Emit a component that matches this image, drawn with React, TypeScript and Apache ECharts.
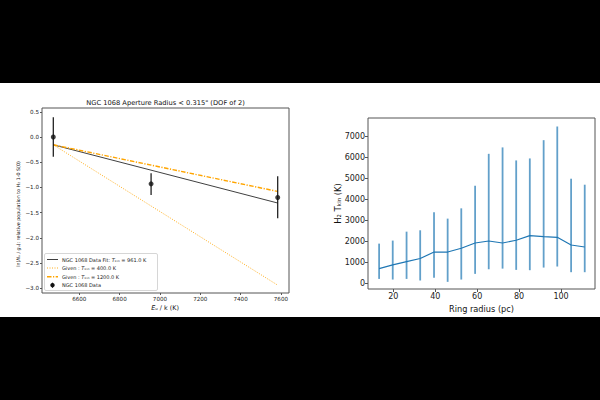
import React, { useEffect, useRef } from "react";
import * as echarts from "echarts";

// ---- Left panel: H2 excitation diagram ----
const levelEu = [6471, 6956, 7584]; // E_u / k (K)
const lnPop = [0.0, -0.93, -1.2];
const lnPopLow = [-0.39, -1.15, -1.61];
const lnPopHigh = [0.39, -0.72, -0.78];
const modelEu = [6471, 7584];
const fitLine = [-0.155, -1.31];
const given400 = [-0.155, -2.94];
const given1200 = [-0.155, -1.08];
const leftXTicks = [6600, 6800, 7000, 7200, 7400, 7600];
const leftYTicks = [0.5, 0.0, -0.5, -1.0, -1.5, -2.0, -2.5, -3.0];

// ---- Right panel: T_kin vs ring radius ----
const ringRadius = [13.2, 19.7, 26.3, 32.8, 39.4, 45.9, 52.4, 59.0, 65.5, 72.1, 78.6, 85.1, 91.7, 98.2, 104.8, 111.3];
const tkin = [710, 890, 1045, 1190, 1500, 1500, 1680, 1930, 2025, 1930, 2060, 2280, 2235, 2200, 1835, 1740];
const tkinLow = [220, 190, 220, 145, 270, 80, 190, 460, 680, 710, 650, 635, 760, 810, 540, 540];
const tkinHigh = [1900, 2045, 2470, 2535, 3390, 3090, 3580, 4655, 6175, 6480, 5860, 5955, 6825, 7475, 4990, 4705];
const rightXTicks = [20, 40, 60, 80, 100];
const rightYTicks = [0, 1000, 2000, 3000, 4000, 5000, 6000, 7000];

const FONT = "DejaVu Sans";
const minus = (s: string) => s.replace("-", "\u2212");

export default function App() {
  const ref = useRef<HTMLDivElement>(null);
  useEffect(() => {
    if (!ref.current) return;
    const chart = echarts.init(ref.current, undefined, { renderer: "svg" });

    const errRender = (color: string, width: number) => (params: any, api: any) => {
      const x = api.value(0);
      const p1 = api.coord([x, api.value(1)]);
      const p2 = api.coord([x, api.value(2)]);
      return {
        type: "line",
        shape: { x1: p1[0], y1: p1[1], x2: p2[0], y2: p2[1] },
        style: { stroke: color, lineWidth: width },
      };
    };

    const tickLabel = (size: number) => ({ fontFamily: FONT, fontSize: size, color: "#222" });

    const legendY = [259.5, 268, 276.8, 285.2];
    const legendTextStyle = { fontFamily: FONT, fontSize: 5, fill: "#222", verticalAlign: "middle" };
    const hiddenLine = { show: false, onZero: false };

    const option: any = {
      animation: false,
      backgroundColor: "#ffffff",
      grid: [
        { left: 42, top: 108, width: 247, height: 185, show: true, borderColor: "#555", borderWidth: 1, backgroundColor: "transparent" },
        { left: 368, top: 118, width: 227, height: 171, show: true, borderColor: "#555", borderWidth: 1, backgroundColor: "transparent" },
      ],
      xAxis: [
        {
          type: "value", gridIndex: 0, min: 6415, max: 7640, position: "bottom",
          axisLine: hiddenLine, splitLine: { show: false },
          axisTick: { show: true, length: 2, customValues: leftXTicks, lineStyle: { color: "#555" } },
          axisLabel: { ...tickLabel(5.6), margin: 3, customValues: leftXTicks, formatter: (v: number) => String(v) },
        },
        {
          type: "value", gridIndex: 1, min: 7.9, max: 116.2, position: "bottom",
          axisLine: hiddenLine, splitLine: { show: false },
          axisTick: { show: true, length: 3, customValues: rightXTicks, lineStyle: { color: "#555" } },
          axisLabel: { ...tickLabel(8), margin: 3, customValues: rightXTicks, formatter: (v: number) => String(v) },
        },
      ],
      yAxis: [
        {
          type: "value", gridIndex: 0, min: -3.095, max: 0.575, position: "left",
          axisLine: hiddenLine, splitLine: { show: false },
          axisTick: { show: true, length: 2, customValues: leftYTicks, lineStyle: { color: "#555" } },
          axisLabel: { ...tickLabel(5.6), margin: 3, customValues: leftYTicks, formatter: (v: number) => minus(v.toFixed(1)) },
        },
        {
          type: "value", gridIndex: 1, min: -260, max: 7880, position: "left",
          axisLine: hiddenLine, splitLine: { show: false },
          axisTick: { show: true, length: 3, customValues: rightYTicks, lineStyle: { color: "#555" } },
          axisLabel: { ...tickLabel(8), margin: 3, customValues: rightYTicks, formatter: (v: number) => String(v) },
        },
      ],
      series: [
        {
          name: "NGC 1068 Data Fit", type: "line", xAxisIndex: 0, yAxisIndex: 0, symbol: "none", z: 3,
          data: modelEu.map((x, i) => [x, fitLine[i]]),
          lineStyle: { color: "#404040", width: 1 },
        },
        {
          name: "Given 400 K", type: "line", xAxisIndex: 0, yAxisIndex: 0, symbol: "none", z: 3,
          data: modelEu.map((x, i) => [x, given400[i]]),
          lineStyle: { color: "#FFA500", width: 0.9, type: [1, 1.5] },
        },
        {
          name: "Given 1200 K", type: "line", xAxisIndex: 0, yAxisIndex: 0, symbol: "none", z: 3,
          data: modelEu.map((x, i) => [x, given1200[i]]),
          lineStyle: { color: "#FFA500", width: 1.4, type: [4.5, 1.5, 1.2, 1.5] },
        },
        {
          name: "Data errors", type: "custom", xAxisIndex: 0, yAxisIndex: 0, z: 4,
          renderItem: errRender("#111", 1.2),
          encode: { x: 0, y: [1, 2] },
          data: levelEu.map((x, i) => [x, lnPopLow[i], lnPopHigh[i]]),
        },
        {
          name: "NGC 1068 Data", type: "scatter", xAxisIndex: 0, yAxisIndex: 0, z: 5,
          symbol: "circle", symbolSize: 5,
          itemStyle: { color: "#111" },
          data: levelEu.map((x, i) => [x, lnPop[i]]),
        },
        {
          name: "Tkin errors", type: "custom", xAxisIndex: 1, yAxisIndex: 1, z: 2,
          renderItem: errRender("rgba(31,119,180,0.7)", 1.8),
          encode: { x: 0, y: [1, 2] },
          data: ringRadius.map((x, i) => [x, tkinLow[i], tkinHigh[i]]),
        },
        {
          name: "Tkin", type: "line", xAxisIndex: 1, yAxisIndex: 1, symbol: "none", z: 3,
          data: ringRadius.map((x, i) => [x, tkin[i]]),
          lineStyle: { color: "#1f77b4", width: 1.2 },
        },
      ],
      graphic: [
        { type: "rect", shape: { x: 0, y: 0, width: 600, height: 83 }, style: { fill: "#000" }, z: 100 },
        { type: "rect", shape: { x: 0, y: 317, width: 600, height: 83 }, style: { fill: "#000" }, z: 100 },
        {
          type: "text", x: 165.5, y: 103,
          style: { text: "NGC 1068 Aperture Radius < 0.315\" (DOF of 2)", fontFamily: FONT, fontSize: 6.7, fill: "#111", align: "center", verticalAlign: "middle" },
        },
        {
          type: "text", x: 165, y: 308,
          style: {
            text: "{it|E\u1d64} / k (K)", fontFamily: FONT, fontSize: 6.4, fill: "#111", align: "center", verticalAlign: "middle",
            rich: { it: { fontFamily: FONT, fontSize: 6.4, fontStyle: "italic", fill: "#111" } },
          },
        },
        {
          type: "text", x: 18, y: 214, rotation: Math.PI / 2,
          style: {
            text: "ln({it|N\u1d64} / {it|g\u1d64}): relative population to H\u2082 1-0 S(0)", fontFamily: FONT, fontSize: 4.8, fill: "#111", align: "center", verticalAlign: "middle",
            rich: { it: { fontFamily: FONT, fontSize: 4.8, fontStyle: "italic", fill: "#111" } },
          },
        },
        // legend
        { type: "rect", shape: { x: 44.5, y: 253.5, width: 113, height: 37, r: 1.5 }, style: { fill: "rgba(255,255,255,0.8)", stroke: "#ccc", lineWidth: 0.8 }, z: 10 },
        { type: "line", shape: { x1: 47, y1: legendY[0], x2: 58, y2: legendY[0] }, style: { stroke: "#404040", lineWidth: 1 }, z: 11 },
        { type: "line", shape: { x1: 47, y1: legendY[1], x2: 58, y2: legendY[1] }, style: { stroke: "#FFA500", lineWidth: 0.9, lineDash: [1, 1.5] }, z: 11 },
        { type: "line", shape: { x1: 47, y1: legendY[2], x2: 58, y2: legendY[2] }, style: { stroke: "#FFA500", lineWidth: 1.4, lineDash: [4.5, 1.5, 1.2, 1.5] }, z: 11 },
        { type: "line", shape: { x1: 52.5, y1: legendY[3] - 2.5, x2: 52.5, y2: legendY[3] + 2.5 }, style: { stroke: "#111", lineWidth: 1.1 }, z: 11 },
        { type: "circle", shape: { cx: 52.5, cy: legendY[3], r: 2.2 }, style: { fill: "#111" }, z: 11 },
        {
          type: "text", x: 62, y: legendY[0], z: 11,
          style: { ...legendTextStyle, text: "NGC 1068 Data Fit: {it|T}\u2096\u1d62\u2099 = 961.0 K", rich: { it: { fontFamily: FONT, fontSize: 5, fontStyle: "italic", fill: "#222" } } },
        },
        {
          type: "text", x: 62, y: legendY[1], z: 11,
          style: { ...legendTextStyle, text: "Given : {it|T}\u2096\u1d62\u2099 = 400.0 K", rich: { it: { fontFamily: FONT, fontSize: 5, fontStyle: "italic", fill: "#222" } } },
        },
        {
          type: "text", x: 62, y: legendY[2], z: 11,
          style: { ...legendTextStyle, text: "Given : {it|T}\u2096\u1d62\u2099 = 1200.0 K", rich: { it: { fontFamily: FONT, fontSize: 5, fontStyle: "italic", fill: "#222" } } },
        },
        {
          type: "text", x: 62, y: legendY[3], z: 11,
          style: { ...legendTextStyle, text: "NGC 1068 Data" },
        },
        // right panel labels
        {
          type: "text", x: 481.5, y: 309,
          style: { text: "Ring radius (pc)", fontFamily: FONT, fontSize: 8.2, fill: "#111", align: "center", verticalAlign: "middle" },
        },
        {
          type: "text", x: 338, y: 203.5, rotation: Math.PI / 2,
          style: { text: "H\u2082 T\u2096\u1d62\u2099 (K)", fontFamily: FONT, fontSize: 8.4, fill: "#111", align: "center", verticalAlign: "middle" },
        },
      ],
    };
    chart.setOption(option);
    return () => chart.dispose();
  }, []);
  return <div ref={ref} style={{ position: "fixed", left: 0, top: 0, width: 600, height: 400 }} />;
}
